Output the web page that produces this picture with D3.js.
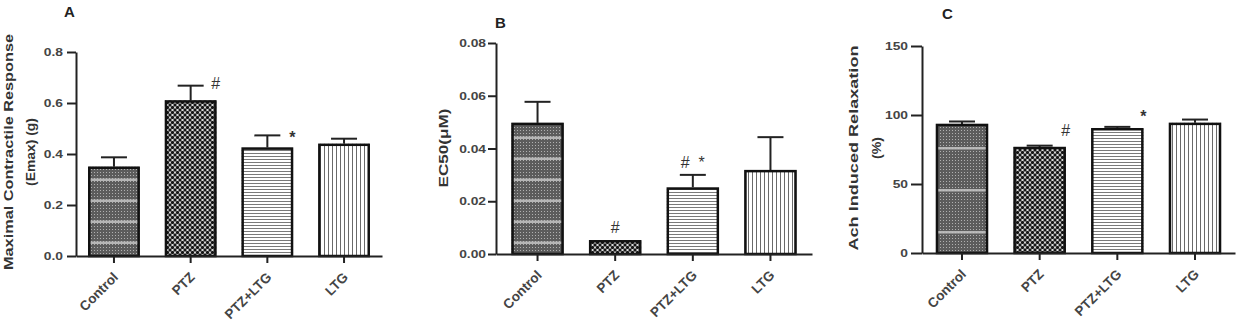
<!DOCTYPE html>
<html>
<head>
<meta charset="utf-8">
<script src="https://cdn.jsdelivr.net/npm/d3@7/dist/d3.min.js"></script>
<style>
  body { margin: 0; background: #fff; }
  svg text { font-family: "Liberation Sans", Arial, sans-serif; }
  .axis path, .axis line { stroke: #222; stroke-width: 2px; }
  .axis text { font-size: 11.5px; font-weight: bold; fill: #444; }
</style>
</head>
<body>
<div id="chart"></div>
<script>
//Data
const categories = ["Control", "PTZ", "PTZ+LTG", "LTG"];

const emaxMean = [0.35, 0.61, 0.425, 0.44];
const emaxSem = [0.037, 0.058, 0.048, 0.02];
const emaxTicks = [0, 0.2, 0.4, 0.6, 0.8];
const emaxMarks = ["", "#", "*", ""];

const ec50Mean = [0.0497, 0.0052, 0.0252, 0.0318];
const ec50Sem = [0.008, 0, 0.0048, 0.0125];
const ec50Ticks = [0, 0.02, 0.04, 0.06, 0.08];
const ec50Marks = ["", "#", "#  *", ""];

const relaxMean = [93.5, 76.8, 90.4, 94.3];
const relaxSem = [1.8, 1.0, 1.0, 2.4];
const relaxTicks = [0, 50, 100, 150];
const relaxMarks = ["", "#", "*", ""];

//Fill style for each group
const fills = ["ctrl", "dots", "hlines", "vlines"];

//the source figure's tick numbers are a bit wide
const STRETCH = 1.2;

const svg = d3.select("#chart").append("svg")
  .attr("width", 1242)
  .attr("height", 324);

svg.append("rect").attr("width", 1242).attr("height", 324).attr("fill", "#fff");

//Patterns
const defs = svg.append("defs");

const base = defs.append("pattern").attr("id", "ctrlBase")
  .attr("patternUnits", "userSpaceOnUse").attr("width", 3).attr("height", 3);
base.append("rect").attr("width", 3).attr("height", 3).attr("fill", "#5c5c5c");
base.append("rect").attr("x", 1).attr("y", 1).attr("width", 1).attr("height", 1).attr("fill", "#b0b0b0");

function bandPattern(id, h) {
  const p = defs.append("pattern").attr("id", id)
    .attr("patternUnits", "userSpaceOnUse").attr("width", 10).attr("height", h);
  p.append("rect").attr("y", h / 2).attr("width", 10).attr("height", 2.5)
    .attr("fill", "#c4c4c4").attr("opacity", 0.85);
}
bandPattern("band21", 21);
bandPattern("band42", 42);

const dots = defs.append("pattern").attr("id", "dots")
  .attr("patternUnits", "userSpaceOnUse").attr("width", 5).attr("height", 5);
dots.append("rect").attr("width", 5).attr("height", 5).attr("fill", "#fff");
[[0, 0], [5, 0], [0, 5], [5, 5], [2.5, 2.5]].forEach(function(c) {
  dots.append("circle").attr("cx", c[0]).attr("cy", c[1]).attr("r", 1.7).attr("fill", "#151515");
});

const hl = defs.append("pattern").attr("id", "hlines")
  .attr("patternUnits", "userSpaceOnUse").attr("width", 10).attr("height", 3);
hl.append("rect").attr("width", 10).attr("height", 3).attr("fill", "#fff");
hl.append("rect").attr("width", 10).attr("height", 1).attr("fill", "#7a7a7a");

const vl = defs.append("pattern").attr("id", "vlines")
  .attr("patternUnits", "userSpaceOnUse").attr("width", 4).attr("height", 10);
vl.append("rect").attr("width", 4).attr("height", 10).attr("fill", "#fff");
vl.append("rect").attr("width", 1).attr("height", 10).attr("fill", "#6a6a6a");

//Draws one panel
function drawPanel(cfg) {
  const g = svg.append("g");

  const x = d3.scaleBand()
    .domain(categories)
    .range([cfg.left, cfg.right])
    .paddingInner(0.33)
    .paddingOuter(cfg.outer);

  const y = d3.scaleLinear()
    .domain([0, cfg.ticks[cfg.ticks.length - 1]])
    .range([cfg.bottom, cfg.top]);

  const rows = categories.map(function(c, i) {
    return { cat: c, mean: cfg.mean[i], sem: cfg.sem[i], mark: cfg.marks[i], fill: fills[i] };
  });

  //error bars (upper only)
  rows.forEach(function(d) {
    if (d.sem <= 0) return;
    const cx = x(d.cat) + x.bandwidth() / 2;
    g.append("line").attr("x1", cx).attr("x2", cx)
      .attr("y1", y(d.mean)).attr("y2", y(d.mean + d.sem))
      .attr("stroke", "#222").attr("stroke-width", 2);
    g.append("line").attr("x1", cx - 13).attr("x2", cx + 13)
      .attr("y1", y(d.mean + d.sem)).attr("y2", y(d.mean + d.sem))
      .attr("stroke", "#222").attr("stroke-width", 2);
  });

  //bars
  rows.forEach(function(d) {
    const bx = x(d.cat), by = y(d.mean), bw = x.bandwidth(), bh = y(0) - y(d.mean);
    if (d.fill == "ctrl") {
      g.append("rect").attr("x", bx).attr("y", by).attr("width", bw).attr("height", bh)
        .attr("fill", "url(#ctrlBase)");
      g.append("rect").attr("x", bx).attr("y", by).attr("width", bw).attr("height", bh)
        .attr("fill", "url(#" + cfg.band + ")");
    } else {
      g.append("rect").attr("x", bx).attr("y", by).attr("width", bw).attr("height", bh)
        .attr("fill", "url(#" + d.fill + ")");
    }
    g.append("rect").attr("x", bx + 1).attr("y", by + 1).attr("width", bw - 2).attr("height", Math.max(bh - 1, 0))
      .attr("fill", "none").attr("stroke", "#111").attr("stroke-width", 2.5);
  });

  //significance marks (the star glyph sits high, so push it down)
  rows.forEach(function(d) {
    if (!d.mark) return;
    const cx = x(d.cat) + x.bandwidth() / 2;
    g.append("text")
      .attr("x", cx + cfg.markDx)
      .attr("y", y(d.mean + d.sem) + cfg.markDy + (d.mark == "*" ? 5 : 0))
      .attr("text-anchor", "middle")
      .attr("font-size", 16)
      .attr("font-weight", d.mark == "*" ? "bold" : "normal")
      .attr("fill", "#333")
      .style("white-space", "pre")
      .text(d.mark);
  });

  //axes
  g.append("g")
    .attr("class", "axis")
    .attr("transform", "translate(" + cfg.left + ",0)")
    .call(d3.axisLeft(y).tickValues(cfg.ticks).tickFormat(cfg.format)
      .tickSize(cfg.tickSize).tickPadding(cfg.tickPad).tickSizeOuter(0))
    .selectAll("text")
    .attr("font-size", 11.5)
    .each(function() {
      const w = this.getComputedTextLength();
      d3.select(this).attr("textLength", w * STRETCH).attr("lengthAdjust", "spacingAndGlyphs");
    });

  g.append("g")
    .attr("class", "axis")
    .attr("transform", "translate(0," + cfg.bottom + ")")
    .call(d3.axisBottom(x).tickSize(7).tickSizeOuter(0).tickFormat(""));

  //rotated category labels, 45 degrees
  const c45 = Math.SQRT1_2;
  categories.forEach(function(c) {
    const cx = x(c) + x.bandwidth() / 2;
    g.append("g")
      .attr("transform", "matrix(" + c45 + "," + (-c45) + "," + c45 + "," + c45 + "," + (cx + 5) + "," + (cfg.bottom + 22) + ")")
      .append("text")
      .attr("text-anchor", "end")
      .attr("font-size", 13.5).attr("font-weight", "bold").attr("fill", "#444")
      .text(c);
  });

  //panel letter
  g.append("text")
    .attr("x", cfg.letterX).attr("y", cfg.letterY)
    .attr("font-size", 15).attr("font-weight", "bold").attr("fill", "#222")
    .text(cfg.letter);

  //y labels
  cfg.ylabel.forEach(function(l) {
    g.append("text")
      .attr("transform", "translate(" + l.x + "," + cfg.labelMid + ") rotate(-90)")
      .attr("text-anchor", "middle")
      .attr("font-size", 13).attr("font-weight", "bold").attr("fill", "#333")
      .attr("textLength", l.len).attr("lengthAdjust", "spacingAndGlyphs")
      .text(l.text);
  });
}

drawPanel({
  left: 76, right: 382, top: 52, bottom: 256, outer: 0.16,
  mean: emaxMean, sem: emaxSem, marks: emaxMarks, ticks: emaxTicks,
  format: d3.format(".1f"), band: "band21", tickSize: 9, tickPad: 4,
  markDx: 25, markDy: 3, letter: "A", letterX: 64, letterY: 17,
  labelMid: 152,
  ylabel: [
    { text: "Maximal Contractile Response", x: 13, len: 236 },
    { text: "(Emax) (g)", x: 35, len: 68 }
  ]
});

drawPanel({
  left: 496, right: 812, top: 43, bottom: 254, outer: 0.2,
  mean: ec50Mean, sem: ec50Sem, marks: ec50Marks, ticks: ec50Ticks,
  format: d3.format(".2f"), band: "band21", tickSize: 8, tickPad: 2,
  markDx: 0, markDy: -7, letter: "B", letterX: 495, letterY: 28,
  labelMid: 148,
  ylabel: [
    { text: "EC50(\u03bcM)", x: 448, len: 79 }
  ]
});

drawPanel({
  left: 922, right: 1235, top: 46, bottom: 253, outer: 0.18,
  mean: relaxMean, sem: relaxSem, marks: relaxMarks, ticks: relaxTicks,
  format: d3.format("d"), band: "band42", tickSize: 11, tickPad: 3,
  markDx: 26, markDy: -10, letter: "C", letterX: 942, letterY: 19,
  labelMid: 148,
  ylabel: [
    { text: "Ach Induced Relaxation", x: 858, len: 205 },
    { text: "(%)", x: 881, len: 22 }
  ]
});
</script>
</body>
</html>
